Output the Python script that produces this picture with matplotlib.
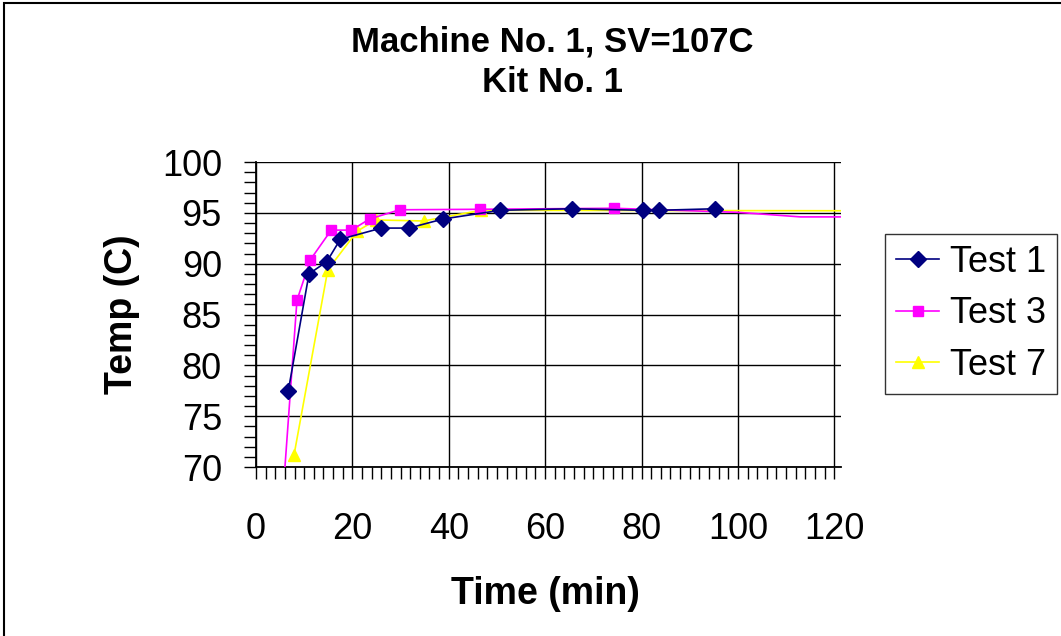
import matplotlib
matplotlib.use("Agg")
import matplotlib.pyplot as plt
from matplotlib.ticker import MultipleLocator
from matplotlib.patches import Rectangle

plt.rcParams['font.family'] = ['Liberation Sans', 'DejaVu Sans']

# Data
test1_x = [6.7, 11.0, 14.7, 17.5, 26.0, 31.7, 38.9, 50.7, 65.5, 80.3, 83.6, 95.3]
test1_y = [77.5, 89.0, 90.2, 92.4, 93.5, 93.5, 94.4, 95.25, 95.4, 95.25, 95.25, 95.4]

test3_x = [5.4, 8.5, 11.3, 15.6, 19.8, 23.6, 29.8, 46.5, 74.2, 100.0, 113.0, 130.0]
test3_y = [66.0, 86.4, 90.4, 93.3, 93.3, 94.4, 95.3, 95.35, 95.45, 95.05, 94.6, 94.6]
test3_marker_count = 9

test7_x = [7.9, 14.9, 21.0, 24.9, 34.8, 46.7, 130.0]
test7_y = [71.2, 89.4, 93.2, 94.3, 94.2, 95.25, 95.2]
test7_marker_count = 6

W, H = 1061, 636
fig = plt.figure(figsize=(W / 100, H / 100), dpi=100)
fig.patch.set_facecolor('white')

# outer chart border (top and left visible)
fig.patches.append(Rectangle((4 / W, -0.2), 1.5, 1.2 - 3 / H,
                             transform=fig.transFigure, fill=False,
                             edgecolor='black', linewidth=1.5))

left, right, top, bottom = 256, 841, 162, 467
ax = fig.add_axes([left / W, 1 - bottom / H, (right - left) / W, (bottom - top) / H])

ax.plot(test1_x, test1_y, color='#000080', lw=1.2, marker='D', markersize=8,
        markerfacecolor='#000080', markeredgecolor='#000080', label='Test 1', zorder=5)
ax.plot(test3_x, test3_y, color='#FF00FF', lw=1.2, marker='s', markersize=7,
        markevery=list(range(1, test3_marker_count)),
        markerfacecolor='#FF00FF', markeredgecolor='#FF00FF', label='Test 3', zorder=4)
ax.plot(test7_x, test7_y, color='#FFFF00', lw=1.2, marker='^', markersize=8.5,
        markevery=list(range(test7_marker_count)),
        markerfacecolor='#FFFF00', markeredgecolor='#FFFF00', label='Test 7', zorder=3)

ax.set_xlim(0, 121.4)
ax.set_ylim(70, 100)
ax.xaxis.set_major_locator(MultipleLocator(20))
ax.xaxis.set_minor_locator(MultipleLocator(2))
ax.yaxis.set_major_locator(MultipleLocator(5))
ax.yaxis.set_minor_locator(MultipleLocator(1))
ax.set_xticks([0, 20, 40, 60, 80, 100, 120])
ax.grid(True, which='major', color='black', linewidth=1.0)
ax.set_axisbelow(True)
for s in ['top', 'right']:
    ax.spines[s].set_visible(False)
for s in ['left', 'bottom']:
    ax.spines[s].set_linewidth(1.3)
ax.tick_params(axis='both', which='both', direction='out', length=8.5, width=1.0)
ax.tick_params(axis='x', which='major', labelsize=26, pad=24)
ax.tick_params(axis='y', which='major', labelsize=26, pad=16)

ax.set_xlabel('Time (min)', fontsize=27, fontweight='bold')
ax.xaxis.set_label_coords((545 - left) / (right - left), (bottom - 594) / (bottom - top))
ax.xaxis.label.set_va('center')
ax.set_ylabel('Temp (C)', fontsize=27, fontweight='bold')
ax.yaxis.set_label_coords((122 - left) / (right - left), 0.5)
ax.yaxis.label.set_va('center')

fig.text(552 / W, 1 - 51.5 / H, 'Machine No. 1, SV=107C', fontsize=25, fontweight='bold',
         ha='center', va='baseline')
fig.text(553 / W, 1 - 91.5 / H, 'Kit No. 1', fontsize=25, fontweight='bold',
         ha='center', va='baseline')

leg = ax.legend(loc='upper left', bbox_to_anchor=(885 / W, 1 - 234 / H),
                bbox_transform=fig.transFigure, fontsize=26, frameon=True,
                fancybox=False, shadow=False, handlelength=1.2, handletextpad=0.3,
                borderpad=0.3, labelspacing=0.46, borderaxespad=0)
leg.get_frame().set_edgecolor('black')
leg.get_frame().set_linewidth(1.0)

fig.savefig('out.png', dpi=100, facecolor='white')
